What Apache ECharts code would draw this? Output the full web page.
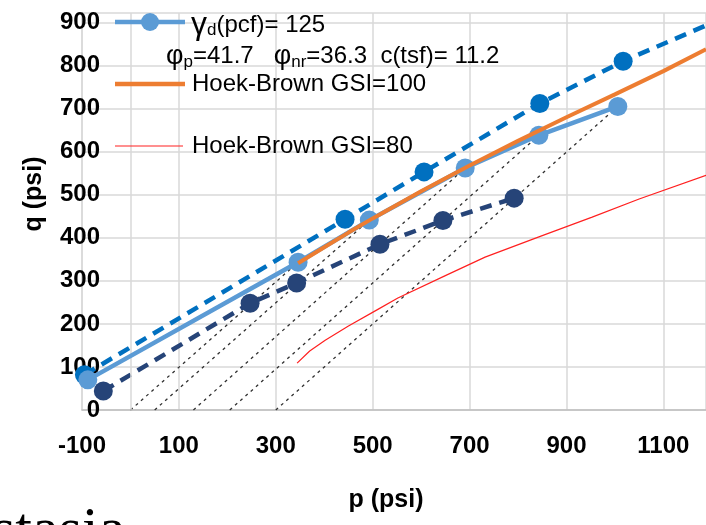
<!DOCTYPE html>
<html>
<head>
<meta charset="utf-8">
<script src="https://cdn.jsdelivr.net/npm/echarts@6/dist/echarts.min.js"></script>
<style>
html,body{margin:0;padding:0;background:#fff;}
#c{width:706px;height:525px;}
</style>
</head>
<body>
<div id="c"></div>
<script>
// ---- data ----
const xTickStart = -100;           // first x tick label
const xTickStep = 200;
const xMaxP = 1188;                // right edge of plot (p, psi)
const yMaxQ = 922;                 // top edge of plot (q, psi)
const yTickStep = 100;

// dark-blue dashed series (with markers) + its extension to the right edge
const medP = [-95, 443, 606, 845, 1017];
const medQ = [82, 443, 553, 712, 810];
const medTailP = [1188];
const medTailQ = [893];

// light-blue solid series (gamma_d = 125)
const lightP = [-88, 346, 493, 691, 843, 1006];
const lightQ = [70, 343, 441, 562, 638, 705];

// navy dashed series
const navyP = [-56, 247, 343, 515, 645, 792];
const navyQ = [44, 248, 295, 385, 440, 492];

// Hoek-Brown GSI=100
const hb100P = [346, 400, 450, 500, 600, 700, 800, 900, 1000, 1100, 1188];
const hb100Q = [341, 378, 412, 445, 508, 568, 625, 680, 733, 787, 838];

// Hoek-Brown GSI=80
const hb80P = [344, 370, 402, 450, 508, 552, 650, 732, 850, 953, 1050, 1188];
const hb80Q = [109, 137, 162, 195, 232, 260, 312, 355, 405, 448, 490, 545];

// stress paths: start on p axis (q = 0), end at light-blue points 1..5
const pathStartP = [0, 50, 130, 205, 300];
const pathEndIndex = [1, 2, 3, 4, 5];

// ---- chart ----
const OFF = -xTickStart; // axis counts ticks from min, so shift p so min is 0
const tx = p => p + OFF;
const pts = (P, Q) => P.map((p, i) => [tx(p), Q[i]]);

const FONT = 'Liberation Sans, Arial, sans-serif';
const MS = 19;

const series = [];
pathStartP.forEach((p0, k) => {
  const j = pathEndIndex[k];
  series.push({
    type: 'line', data: [[tx(p0), 0], [tx(lightP[j]), lightQ[j]]],
    symbol: 'none', z: 1,
    lineStyle: { color: '#303030', width: 1.3, type: [3, 4] }
  });
});
series.push({
  type: 'line', data: [], z: 0,
  markLine: { silent: true, symbol: 'none', label: { show: false },
    lineStyle: { color: '#d9d9d9', width: 1.5, type: 'solid' },
    data: [{ xAxis: tx(0) }] }
});
series.push({
  type: 'line', data: pts(hb80P, hb80Q), symbol: 'none', z: 2,
  lineStyle: { color: '#ff2020', width: 1.2 }
});
series.push({
  type: 'line', data: pts(navyP, navyQ), symbol: 'circle', symbolSize: MS, z: 3,
  itemStyle: { color: '#264478' },
  lineStyle: { color: '#264478', width: 4.5, type: [12, 8] }
});
series.push({
  type: 'line',
  data: pts(medP, medQ).concat(pts(medTailP, medTailQ).map(v => ({ value: v, symbolSize: 0 }))),
  symbol: 'circle', symbolSize: MS, z: 4,
  itemStyle: { color: '#0070C0' },
  lineStyle: { color: '#0070C0', width: 4.5, type: [12, 8] }
});
series.push({
  type: 'line', data: pts(lightP, lightQ), symbol: 'circle', symbolSize: MS, z: 5,
  itemStyle: { color: '#5B9BD5' },
  lineStyle: { color: '#5B9BD5', width: 4.5 }
});
series.push({
  type: 'line', data: pts(hb100P, hb100Q), symbol: 'none', z: 6,
  lineStyle: { color: '#ED7D31', width: 4 }
});

const chart = echarts.init(document.getElementById('c'), null, { renderer: 'canvas' });
chart.setOption({
  animation: false,
  backgroundColor: '#fff',
  grid: { left: 82, right: 0, top: 13, bottom: 115, containLabel: false },
  xAxis: {
    type: 'value', min: 0, max: tx(xMaxP), interval: xTickStep,
    axisLine: { show: true, lineStyle: { color: '#bfbfbf', width: 1.5 } },
    axisTick: { show: false },
    splitLine: { show: true, lineStyle: { color: '#d9d9d9', width: 1.5 } },
    axisLabel: { showMaxLabel: false, margin: 24, color: '#000', fontFamily: FONT,
      fontSize: 24, fontWeight: 'bold', formatter: v => String(v - OFF) }
  },
  yAxis: {
    type: 'value', min: 0, max: yMaxQ, interval: yTickStep,
    axisLine: { show: true, lineStyle: { color: '#d9d9d9', width: 1.5 } },
    axisTick: { show: false },
    splitLine: { show: true, lineStyle: { color: '#d9d9d9', width: 1.5 } },
    axisLabel: { showMaxLabel: false, margin: -18, color: '#000', fontFamily: FONT,
      fontSize: 24, fontWeight: 'bold' }
  },
  series: series,
  graphic: [
    // legend
    { type: 'line', shape: { x1: 115, y1: 22, x2: 185, y2: 22 }, style: { stroke: '#5B9BD5', lineWidth: 4.5 }, z: 10 },
    { type: 'circle', shape: { cx: 150, cy: 22, r: 9 }, style: { fill: '#5B9BD5' }, z: 10 },
    { type: 'text', left: 191, top: 9, z: 10, style: {
      text: '{g|γ}{d|d}{t|(pcf)= 125}', fill: '#000',
      rich: { g: { fontSize: 32, fontFamily: FONT, fill: '#000' },
              d: { fontSize: 17, fontFamily: FONT, fill: '#000', padding: [10, 0, 0, 0] },
              t: { fontSize: 24, fontFamily: FONT, fill: '#000' } } } },
    { type: 'text', left: 166, top: 43, z: 10, style: {
      text: '{g|φ}{s|p}{t|=41.7   }{g|φ}{s|nr}{t|=36.3  c(tsf)= 11.2}', fill: '#000',
      rich: { g: { fontSize: 27, fontFamily: FONT, fill: '#000' },
              s: { fontSize: 17, fontFamily: FONT, fill: '#000', padding: [12, 0, 0, 0] },
              t: { fontSize: 24, fontFamily: FONT, fill: '#000' } } } },
    { type: 'line', shape: { x1: 115, y1: 84, x2: 185, y2: 84 }, style: { stroke: '#ED7D31', lineWidth: 4.5 }, z: 10 },
    { type: 'text', left: 192, top: 72, z: 10, style: { text: 'Hoek-Brown GSI=100', fill: '#000', fontSize: 24, fontFamily: FONT } },
    { type: 'line', shape: { x1: 115, y1: 146, x2: 183, y2: 146 }, style: { stroke: '#ff2020', lineWidth: 1.2 }, z: 10 },
    { type: 'text', left: 192, top: 134, z: 10, style: { text: 'Hoek-Brown GSI=80', fill: '#000', fontSize: 24, fontFamily: FONT } },
    // axis titles
    { type: 'text', x: 34, y: 194, rotation: Math.PI / 2, z: 10, style: {
      text: 'q (psi)', fill: '#000', fontSize: 25, fontWeight: 'bold', fontFamily: FONT,
      align: 'center', verticalAlign: 'middle' } },
    { type: 'text', x: 386, y: 500, z: 10, style: {
      text: 'p (psi)', fill: '#000', fontSize: 25, fontWeight: 'bold', fontFamily: FONT,
      align: 'center', verticalAlign: 'middle' } },
    // stray caption text cut by the bottom edge
    { type: 'text', x: -8, y: 532, z: 10, style: {
      text: 'stasia', fill: '#000', fontSize: 60, fontFamily: 'Liberation Serif, serif',
      align: 'left', verticalAlign: 'middle' } }
  ]
});
</script>
</body>
</html>
